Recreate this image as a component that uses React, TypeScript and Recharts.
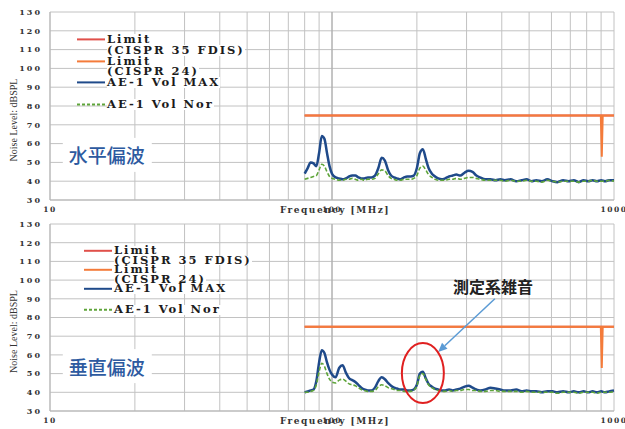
import {
  CartesianGrid,
  Legend,
  Line,
  LineChart,
  ReferenceDot,
  ReferenceLine,
  XAxis,
  YAxis,
} from "recharts"

// measurement frequencies [MHz]
const freqs = [
  80, 82, 84, 86, 88, 90, 92, 94, 96, 98, 100, 103, 106, 109, 112, 115, 118,
  121, 124, 127, 130, 134, 138, 142, 146, 150, 154, 158, 162, 166, 170, 175,
  180, 185, 190, 195, 200, 205, 210, 215, 220, 226, 232, 238, 245, 252, 260,
  268, 276, 285, 295, 305, 315, 325, 335, 350, 365, 380, 395, 410, 430, 450,
  470, 490, 510, 530, 555, 580, 605, 630, 660, 690, 720, 750, 780, 810, 840,
  870, 900, 930, 960, 1000,
]

// 水平偏波
const hMax = [
  44, 47, 50, 49.5, 48, 55, 64, 62.5, 55, 48, 44, 42, 41.5, 41, 41.5, 42.5, 43,
  43, 42, 41.5, 41.5, 42, 42, 43, 47, 52.5, 51, 46, 43, 42, 41.5, 41, 42, 42.5,
  42.5, 43, 47, 55, 57, 52, 47, 44, 42.5, 41.5, 41, 41.5, 42.5, 43, 43.5, 43,
  44.5, 45.5, 45, 43, 42, 41, 41, 40.5, 41, 40.5, 41, 40, 40.5, 41, 40, 40.5,
  40, 41, 40, 39.5, 40.5, 40, 40.5, 39.5, 40.5, 40, 40.5, 40, 40.5, 40, 40.5,
  40.5,
]
const hNor = [
  41, 41.5, 42, 42.5, 43, 46, 49, 48, 45, 42.5, 41.5, 41, 40.5, 40.5, 41, 41,
  41.5, 41, 40.5, 41, 40.5, 41, 41, 41.5, 44, 46, 45.5, 43, 41.5, 41, 40.5,
  40.5, 41, 41, 41, 41.5, 43, 47, 48, 46, 43.5, 42, 41, 40.5, 40.5, 40.5, 41,
  41, 41.5, 41, 41.5, 42, 42, 41.5, 41, 40.5, 40.5, 40.5, 40.5, 40, 40.5, 40,
  40, 40.5, 40, 40, 39.5, 40.5, 40, 39.5, 40, 40, 40, 39.5, 40, 40, 40.5, 40,
  40, 40, 40.5, 40,
]

// 垂直偏波
const vMax = [
  40, 40.5, 41, 41.5, 46, 56, 62.5, 61, 56, 52, 49.5, 48, 53, 54.5, 50.5, 47.5,
  46.5, 45.5, 44, 42.5, 41.5, 41, 41, 42.5, 46, 48, 47, 45, 43.5, 42.5, 42,
  41.5, 41.5, 41, 41, 41.5, 44, 50, 51, 47.5, 44.5, 43, 42, 41.5, 41, 41, 41.5,
  41, 41.5, 42, 43, 43.5, 42.5, 41.5, 41, 41.5, 42.5, 42, 41.5, 41, 41, 41.5,
  40.5, 41, 40.5, 40.5, 40, 40.5, 40.5, 40, 40.5, 40, 40.5, 40, 40.5, 40, 40.5,
  40, 40.5, 40, 40.5, 41,
]
const vNor = [
  40, 40, 40.5, 41, 44, 51, 55.5, 54, 50, 47, 45.5, 45, 46.5, 47, 46, 44.5, 44,
  43.5, 42.5, 41.5, 41, 40.5, 40.5, 41, 43, 44, 43.5, 42.5, 42, 41.5, 41, 41,
  40.5, 40.5, 40.5, 41, 43.5, 49, 50, 47, 44, 42.5, 41.5, 41, 40.5, 40.5, 41,
  40.5, 41, 41, 41.5, 41.5, 41, 41, 40.5, 40.5, 41, 41, 40.5, 40.5, 40.5, 40.5,
  40, 40.5, 40, 40, 40, 40, 40, 39.5, 40, 40, 40, 39.5, 40, 40, 40, 39.5, 40,
  40, 40, 40.5,
]

const limit35Freqs = [80, 1000]
const limit35Values = [75, 75]
const limit24Freqs = [80, 898, 905, 912, 1000]
const limit24Values = [75, 75, 53, 75, 75]

const xTicks = [
  10, 20, 30, 40, 50, 60, 70, 80, 90, 100, 200, 300, 400, 500, 600, 700, 800,
  900, 1000,
]
const xLabels = [10, 100, 1000]
const yTicks = [30, 40, 50, 60, 70, 80, 90, 100, 110, 120, 130]

const RED = "#e0504a"
const ORANGE = "#f47b3a"
const BLUE = "#1f4a8a"
const GREEN = "#5fa53a"
const SERIF = '"DejaVu Serif", "Liberation Serif", serif'

const legendItems = [
  { color: RED, dash: undefined, lines: ["Limit", "(CISPR 35 FDIS)"] },
  { color: ORANGE, dash: undefined, lines: ["Limit", "(CISPR 24)"] },
  { color: BLUE, dash: undefined, lines: ["AE-1 Vol MAX"] },
  { color: GREEN, dash: "3 2", lines: ["AE-1 Vol Nor"] },
]

const toRows = (xs: number[], ys: number[]) =>
  xs.map((f, i) => ({ f, v: ys[i] }))

function LegendBox({ lh, gap }: { lh: number; gap: number }) {
  return (
    <div
      style={{
        fontFamily: SERIF,
        fontWeight: "bold",
        fontSize: 11.5,
        letterSpacing: 2,
        color: "#1c1c1c",
        lineHeight: `${lh}px`,
        whiteSpace: "nowrap",
      }}
    >
      {legendItems.map((item, i) => (
        <div key={i} style={{ marginTop: i === 3 ? gap : 0 }}>
          {item.lines.map((txt, j) => (
            <div key={j} style={{ display: "flex", height: lh }}>
              <svg width={32} height={lh} style={{ flexShrink: 0 }}>
                {j === 0 && (
                  <line
                    x1={2}
                    x2={30}
                    y1={lh / 2}
                    y2={lh / 2}
                    stroke={item.color}
                    strokeWidth={2}
                    strokeDasharray={item.dash}
                  />
                )}
              </svg>
              <span style={{ background: "#fff" }}>{txt}</span>
            </div>
          ))}
        </div>
      ))}
    </div>
  )
}

type PanelProps = {
  top: number
  height: number
  xAxisHeight: number
  title: string
  maxValues: number[]
  norValues: number[]
  legendPos: { left: number; top: number; lh: number; gap: number }
  note?: boolean
}

function Panel({
  top,
  height,
  xAxisHeight,
  title,
  maxValues,
  norValues,
  legendPos,
  note,
}: PanelProps) {
  return (
    <div style={{ position: "absolute", left: 0, top }}>
      <LineChart
        width={625}
        height={height}
        margin={{ top: 12, right: 11, bottom: 0, left: 0 }}
      >
        <CartesianGrid stroke="#c2c2c2" verticalValues={xTicks} />
        <XAxis
          dataKey="f"
          type="number"
          scale="log"
          domain={[10, 1000]}
          ticks={xTicks}
          interval={0}
          height={xAxisHeight}
          axisLine={{ stroke: "#b5b5b5" }}
          tickLine={false}
          tick={({ x, y, payload }: any) =>
            xLabels.includes(payload.value) ? (
              <text
                x={x}
                y={y + 4}
                textAnchor="middle"
                fontFamily={SERIF}
                fontWeight="bold"
                fontSize={7.5}
                letterSpacing={1.5}
                fill="#333"
              >
                {payload.value}
              </text>
            ) : (
              <g />
            )
          }
          label={({ viewBox }: any) => (
            <text
              x={335}
              y={viewBox.y + 13}
              textAnchor="middle"
              fontFamily={SERIF}
              fontWeight="bold"
              fontSize={9}
              letterSpacing={1.5}
              fill="#333"
            >
              Frequency [MHz]
            </text>
          )}
        />
        <YAxis
          type="number"
          domain={[30, 130]}
          ticks={yTicks}
          interval={0}
          width={50}
          axisLine={{ stroke: "#b5b5b5" }}
          tickLine={false}
          tickSize={0}
          tickMargin={8}
          tick={{
            fontFamily: SERIF,
            fontWeight: "bold",
            fontSize: 8,
            letterSpacing: 2,
            fill: "#333",
          }}
          label={({ viewBox }: any) => (
            <text
              transform={`translate(13, ${viewBox.y + viewBox.height / 2 + 14}) rotate(-90)`}
              textAnchor="middle"
              dominantBaseline="central"
              fontFamily={'"Liberation Serif", serif'}
              fontSize={10}
              fill="#333"
            >
              Noise Level: dBSPL
            </text>
          )}
        />
        <ReferenceLine x={100} stroke="#a8a8a8" />
        <ReferenceDot
          x={15.9}
          y={54}
          shape={({ cx, cy }: any) => (
            <g>
              <rect x={cx - 44} y={cy - 17} width={89} height={34} fill="#fff" />
              <text
                x={cx}
                y={cy}
                textAnchor="middle"
                dominantBaseline="central"
                fontFamily='"Noto Sans CJK JP", sans-serif'
                fontWeight={500}
                fontSize={19}
                fill="#2d5aa0"
              >
                {title}
              </text>
            </g>
          )}
        />
        <Line
          data={toRows(limit35Freqs, limit35Values)}
          dataKey="v"
          stroke={RED}
          strokeWidth={2}
          dot={false}
          isAnimationActive={false}
          name="Limit (CISPR 35 FDIS)"
        />
        <Line
          data={toRows(limit24Freqs, limit24Values)}
          dataKey="v"
          stroke={ORANGE}
          strokeWidth={2}
          dot={false}
          isAnimationActive={false}
          name="Limit (CISPR 24)"
        />
        <Line
          data={toRows(freqs, maxValues)}
          dataKey="v"
          type="monotone"
          stroke={BLUE}
          strokeWidth={2.5}
          dot={false}
          isAnimationActive={false}
          name="AE-1 Vol MAX"
        />
        <Line
          data={toRows(freqs, norValues)}
          dataKey="v"
          type="monotone"
          stroke={GREEN}
          strokeWidth={1.6}
          strokeDasharray="4 2"
          dot={false}
          isAnimationActive={false}
          name="AE-1 Vol Nor"
        />
        {note && (
          <ReferenceDot
            x={210}
            y={50.3}
            shape={({ cx, cy }: any) => (
              <ellipse
                cx={cx}
                cy={cy}
                rx={21}
                ry={30}
                fill="none"
                stroke="#e02020"
                strokeWidth={2}
              />
            )}
          />
        )}
        {note && (
          <ReferenceLine
            segment={[
              { x: 378, y: 90 },
              { x: 238, y: 61.6 },
            ]}
            shape={({ x1, y1, x2, y2 }: any) => {
              const a = Math.atan2(y2 - y1, x2 - x1)
              const l = 9
              const w = 4
              const bx = x2 - l * Math.cos(a)
              const by = y2 - l * Math.sin(a)
              const px = -Math.sin(a) * w
              const py = Math.cos(a) * w
              return (
                <g>
                  <line x1={x1} y1={y1} x2={bx} y2={by} stroke="#5b9bd5" strokeWidth={1.5} />
                  <polygon
                    points={`${x2},${y2} ${bx + px},${by + py} ${bx - px},${by - py}`}
                    fill="#5b9bd5"
                  />
                </g>
              )
            }}
          />
        )}
        {note && (
          <ReferenceDot
            x={372}
            y={97}
            shape={({ cx, cy }: any) => (
              <text
                x={cx}
                y={cy}
                textAnchor="middle"
                dominantBaseline="central"
                fontFamily='"Noto Sans CJK JP", sans-serif'
                fontWeight="bold"
                fontSize={16}
                fill="#222"
              >
                測定系雑音
              </text>
            )}
          />
        )}
        <Legend
          layout="vertical"
          align="center"
          verticalAlign="middle"
          wrapperStyle={{ left: legendPos.left, top: legendPos.top, width: "auto" }}
          content={() => <LegendBox lh={legendPos.lh} gap={legendPos.gap} />}
        />
      </LineChart>
    </div>
  )
}

export default function App() {
  return (
    <div
      style={{
        position: "absolute",
        left: 0,
        top: 0,
        width: 625,
        height: 429,
        background: "#fff",
        overflow: "hidden",
      }}
    >
      <Panel
        top={0}
        height={216}
        xAxisHeight={16}
        title="水平偏波"
        maxValues={hMax}
        norValues={hNor}
        legendPos={{ left: 75, top: 34, lh: 10.8, gap: 11 }}
      />
      <Panel
        top={212}
        height={217}
        xAxisHeight={18}
        title="垂直偏波"
        maxValues={vMax}
        norValues={vNor}
        legendPos={{ left: 82, top: 34, lh: 9.6, gap: 11 }}
        note
      />
    </div>
  )
}
